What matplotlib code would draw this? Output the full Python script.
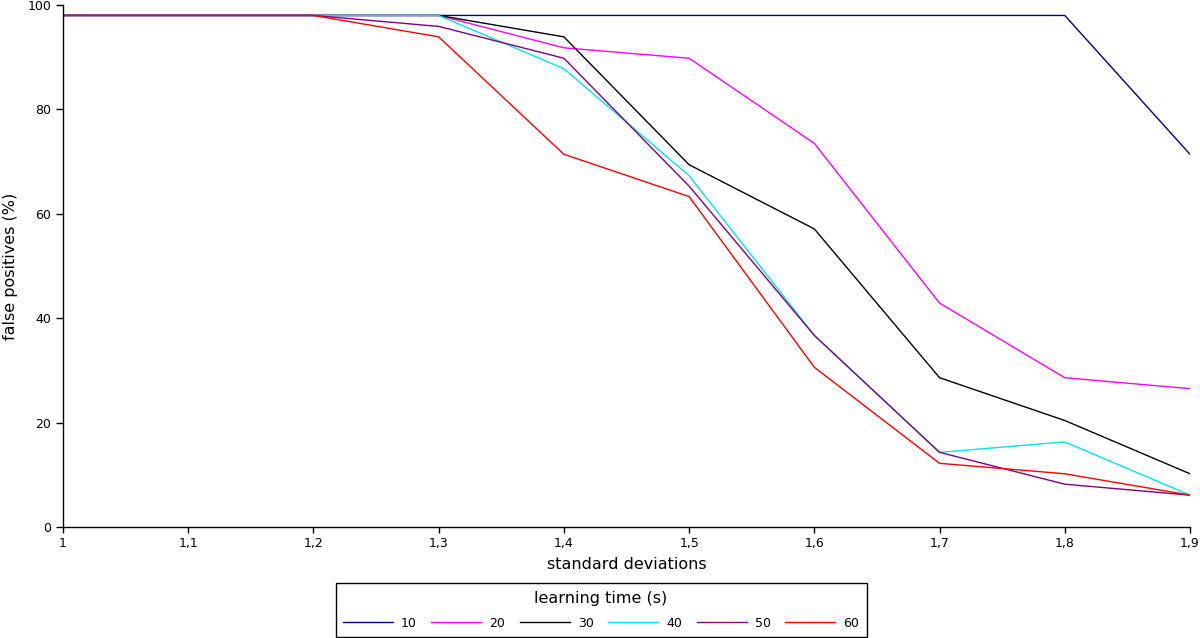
import matplotlib
matplotlib.use("Agg")
import matplotlib.pyplot as plt

x_values = [1.0, 1.1, 1.2, 1.3, 1.4, 1.5, 1.6, 1.7, 1.8, 1.9]
x_ticklabels = ["1", "1,1", "1,2", "1,3", "1,4", "1,5", "1,6", "1,7", "1,8", "1,9"]

fp_10 = [98.0, 98.0, 98.0, 98.0, 98.0, 98.0, 98.0, 98.0, 98.0, 71.4]
fp_20 = [98.0, 98.0, 98.0, 98.0, 91.8, 89.8, 73.5, 42.9, 28.6, 26.5]
fp_30 = [98.0, 98.0, 98.0, 98.0, 93.9, 69.4, 57.1, 28.6, 20.4, 10.2]
fp_40 = [98.0, 98.0, 98.0, 98.0, 87.8, 67.3, 36.7, 14.3, 16.3, 6.1]
fp_50 = [98.0, 98.0, 98.0, 95.9, 89.8, 65.3, 36.7, 14.3, 8.2, 6.1]
fp_60 = [98.0, 98.0, 98.0, 93.9, 71.4, 63.3, 30.6, 12.2, 10.2, 6.1]

series_labels = ["10", "20", "30", "40", "50", "60"]
series_colors = ["#000080", "#ff00ff", "#000000", "#00e5ee", "#800080", "#ff0000"]
series_values = [fp_10, fp_20, fp_30, fp_40, fp_50, fp_60]

W, H = 1200, 638
fig = plt.figure(figsize=(W / 100, H / 100), dpi=100)
ax = fig.add_axes([63 / W, (H - 527) / H, (1190 - 63) / W, (527 - 5) / H])

for vals, lab, col in zip(series_values, series_labels, series_colors):
    ax.plot(x_values, vals, color=col, lw=1.0, label=lab)

ax.set_xlim(1.0, 1.9)
ax.set_ylim(0, 100)
ax.set_xticks(x_values)
ax.set_xticklabels(x_ticklabels)
ax.set_yticks([0, 20, 40, 60, 80, 100])
ax.tick_params(axis="both", direction="out", length=4, width=1, labelsize=9, colors="black")
ax.tick_params(axis="y", length=5)
for s in ["top", "right"]:
    ax.spines[s].set_visible(False)
for s in ["left", "bottom"]:
    ax.spines[s].set_linewidth(1.0)

ax.set_xlabel("standard deviations", fontsize=11.5, labelpad=5)
ax.set_ylabel("false positives (%)", fontsize=11.5, labelpad=7)

handles, labels = ax.get_legend_handles_labels()
leg = fig.legend(handles, labels, loc="upper center", bbox_to_anchor=(601 / W, 1 - 583 / H),
                 ncol=6, title="learning time (s)", fontsize=9, title_fontsize=11.5,
                 frameon=True, fancybox=False, edgecolor="black", framealpha=1,
                 handlelength=4.0, handletextpad=0.65, columnspacing=1.15,
                 borderpad=0.6, labelspacing=0.9, borderaxespad=0)
leg.get_frame().set_linewidth(1.0)

fig.savefig("out.png", dpi=100)
